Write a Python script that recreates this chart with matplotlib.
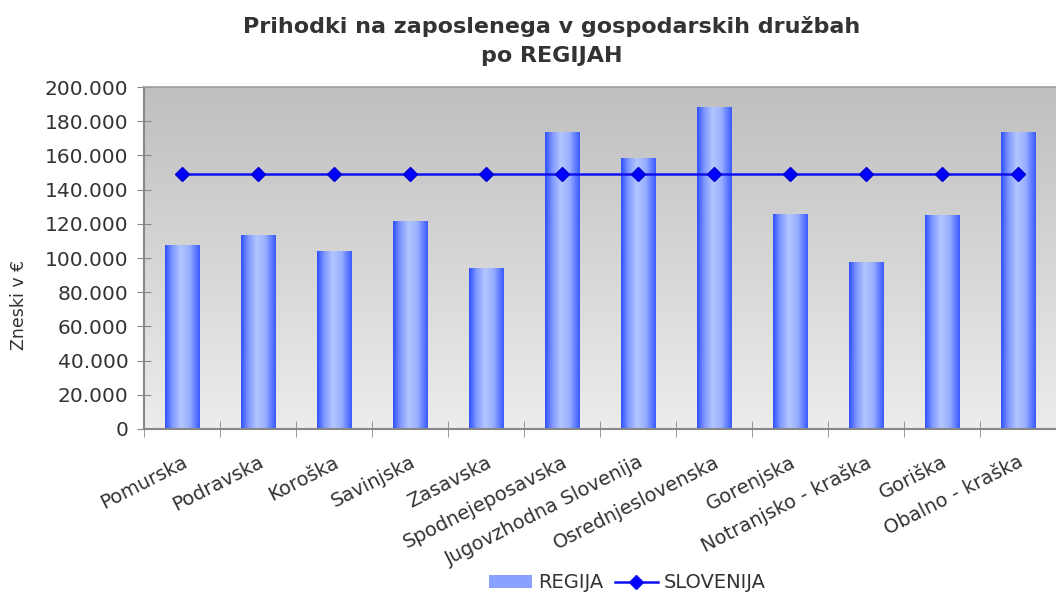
import matplotlib
matplotlib.use("Agg")
import matplotlib.pyplot as plt
from matplotlib.colors import LinearSegmentedColormap
from matplotlib.patches import Rectangle
from matplotlib.lines import Line2D
from matplotlib.ticker import FuncFormatter, MultipleLocator
import numpy as np

regije = ["Pomurska", "Podravska", "Koroška", "Savinjska", "Zasavska",
          "Spodnejeposavska", "Jugovzhodna Slovenija", "Osrednjeslovenska",
          "Gorenjska", "Notranjsko - kraška", "Goriška", "Obalno - kraška"]
regija = [107600, 112900, 104100, 121100, 93600, 173700,
          158500, 188300, 125700, 97100, 125100, 173700]
slovenija = [149300] * 12

txt = "#333333"
plt.rcParams["font.family"] = ["DejaVu Sans"]

fig = plt.figure(figsize=(10.56, 5.93), dpi=100)
ax = fig.add_axes([0.136, 0.2766, 0.864, 0.5766])

# siv gradient ozadja
bg = LinearSegmentedColormap.from_list("bg", ["#ececec", "#bfbfbf"])
ax.imshow(np.linspace(0, 1, 256).reshape(-1, 1), cmap=bg, aspect="auto",
          extent=[0, 1, 0, 1], origin="lower", transform=ax.transAxes, zorder=0)

x = np.arange(len(regije))
bars = ax.bar(x, regija, width=0.45, color="none", zorder=2)

# modri gradient stolpcev
bar_cmap = LinearSegmentedColormap.from_list(
    "bar", [(0, "#2f52ff"), (0.2, "#7d96ff"), (0.45, "#b3c6ff"),
            (0.7, "#9ab0ff"), (0.9, "#5a78ff"), (1, "#3a5cff")])
grad = np.linspace(0, 1, 64).reshape(1, -1)
for b in bars:
    ax.imshow(grad, cmap=bar_cmap, aspect="auto", zorder=2,
              extent=[b.get_x(), b.get_x() + b.get_width(), 0, b.get_height()])

ax.plot(x, slovenija, color="#1010f0", lw=1.8, marker="D", ms=7,
        mfc="#0000ff", mec="#0000cc", zorder=3)

ax.set_xlim(-0.5, len(regije) - 0.5)
ax.set_ylim(0, 200000)
ax.yaxis.set_major_locator(MultipleLocator(20000))
ax.yaxis.set_major_formatter(FuncFormatter(lambda v, p: f"{int(v):,}".replace(",", ".")))

ax.set_xticks(x)
ax.set_xticklabels(regije, rotation=27, ha="right", rotation_mode="anchor",
                   fontsize=14, color=txt)
ax.set_xticks(np.arange(-0.5, len(regije), 1), minor=True)
ax.tick_params(axis="x", which="major", length=0, pad=17)
ax.tick_params(axis="x", which="minor", direction="inout", length=12, color="#888888")
ax.tick_params(axis="y", direction="inout", length=10, color="#888888",
               labelsize=14.5, labelcolor=txt, pad=6)

for s in ["left", "bottom"]:
    ax.spines[s].set_color("#888888")
    ax.spines[s].set_linewidth(1.5)
ax.spines["top"].set_color("#a0a0a0")
ax.spines["top"].set_linewidth(1.2)
ax.spines["right"].set_visible(False)

ax.set_ylabel("Zneski v €", fontsize=12.5, color=txt)
ax.yaxis.set_label_coords(-0.127, 0.363)
ax.set_title("Prihodki na zaposlenega v gospodarskih družbah\npo REGIJAH",
             fontsize=16, fontweight="bold", color=txt, pad=18, x=0.447,
             linespacing=1.55)

# legenda
h_bar = Rectangle((0, 0), 1, 1, facecolor="#8aa2ff", edgecolor="none")
h_line = Line2D([], [], color="#1010f0", lw=1.8, marker="D", ms=7, mfc="#0000ff")
fig.legend([h_bar, h_line], ["REGIJA", "SLOVENIJA"], loc="center",
           bbox_to_anchor=(0.594, 0.017), ncol=2, frameon=False, fontsize=14,
           labelcolor=txt, handlelength=2.2, handletextpad=0.3, columnspacing=0.6,
           borderpad=0)

fig.savefig("out.png", dpi=100)
